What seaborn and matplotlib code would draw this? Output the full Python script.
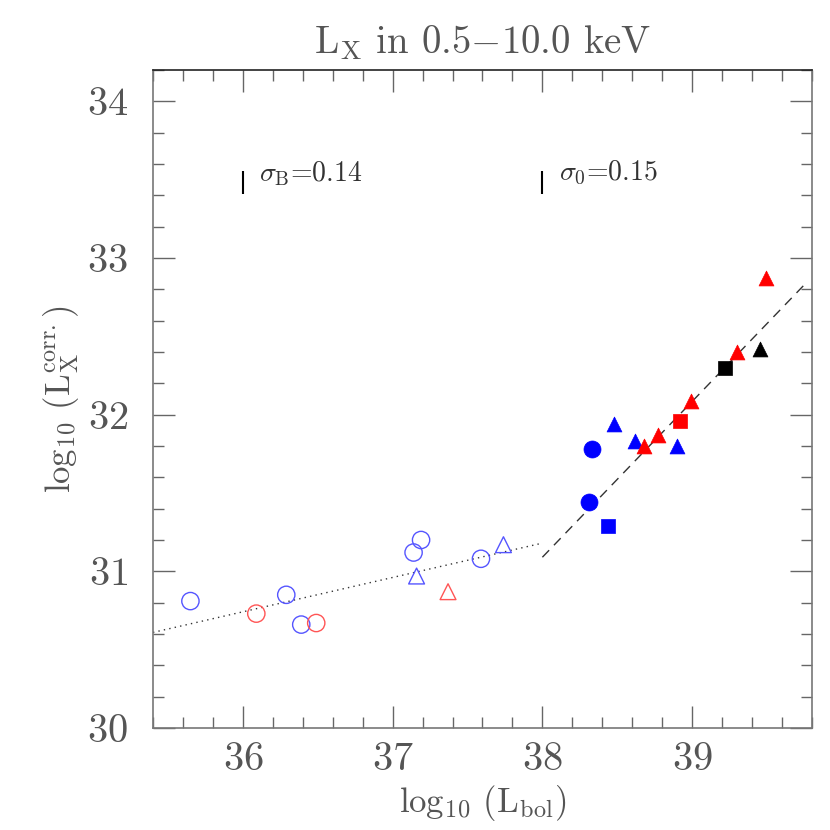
import numpy as np
import pandas as pd
import seaborn as sns
import matplotlib.pyplot as plt
from matplotlib.ticker import MultipleLocator

sns.set_theme(style="white")
plt.rcParams['font.family'] = ['serif']
plt.rcParams['font.serif'] = ['cmr10', 'DejaVu Serif']
plt.rcParams['mathtext.fontset'] = 'cm'
plt.rcParams['axes.formatter.use_mathtext'] = True
plt.rcParams['axes.unicode_minus'] = False

grey = '#555555'

# open circles (blue / red)
oc_blue_x = [35.65, 36.29, 36.39, 37.14, 37.19, 37.59]
oc_blue_y = [30.81, 30.85, 30.66, 31.12, 31.20, 31.08]
oc_red_x = [36.09, 36.49]
oc_red_y = [30.73, 30.67]
# open triangles
ot_blue_x = [37.16, 37.74]
ot_blue_y = [30.97, 31.17]
ot_red_x = [37.37]
ot_red_y = [30.87]
# filled circles
fc_blue_x = [38.33, 38.31]
fc_blue_y = [31.78, 31.44]
# filled squares
fs_blue_x = [38.44]
fs_blue_y = [31.29]
fs_red_x = [38.92]
fs_red_y = [31.96]
fs_black_x = [39.22]
fs_black_y = [32.30]
# filled triangles
ft_blue_x = [38.48, 38.62, 38.90]
ft_blue_y = [31.94, 31.83, 31.80]
ft_red_x = [38.68, 38.77, 38.99, 39.30, 39.49]
ft_red_y = [31.80, 31.87, 32.09, 32.40, 32.87]
ft_black_x = [39.45]
ft_black_y = [32.42]

# fits
dot_x = [35.4, 38.0]
dot_y = [30.61, 31.18]
dash_x = [38.0, 39.77]
dash_y = [31.09, 32.85]

# scatter labels
sig_x = [36.0, 38.0]
sig_y = [33.48, 33.48]
sig_err = [0.072, 0.072]
sig_text = [r'$\sigma_{\rm B}$=0.14', r'$\sigma_{\rm 0}$=0.15']

fig = plt.figure(figsize=(8.3, 8.3), dpi=100)
ax = fig.add_axes([0.1843, 0.1229, 0.794, 0.7928])

groups = [
    (oc_blue_x, oc_blue_y, 'o', '#5555ff', False, 155),
    (oc_red_x, oc_red_y, 'o', '#ff5555', False, 155),
    (ot_blue_x, ot_blue_y, '^', '#5555ff', False, 130),
    (ot_red_x, ot_red_y, '^', '#ff5555', False, 130),
    (fc_blue_x, fc_blue_y, 'o', '#0000ff', True, 150),
    (fs_blue_x, fs_blue_y, 's', '#0000ff', True, 95),
    (fs_red_x, fs_red_y, 's', '#ff0000', True, 95),
    (fs_black_x, fs_black_y, 's', '#000000', True, 95),
    (ft_blue_x, ft_blue_y, '^', '#0000ff', True, 115),
    (ft_red_x, ft_red_y, '^', '#ff0000', True, 115),
    (ft_black_x, ft_black_y, '^', '#000000', True, 115),
]
for gx, gy, m, c, filled, s in groups:
    df = pd.DataFrame({'x': gx, 'y': gy})
    if filled:
        sns.scatterplot(data=df, x='x', y='y', marker=m, s=s, color=c,
                        edgecolor=c, linewidth=0.5, ax=ax, zorder=3)
    else:
        sns.scatterplot(data=df, x='x', y='y', marker=m, s=s, facecolors='none',
                        edgecolor=c, linewidth=1.0, ax=ax, zorder=3)

sns.lineplot(x=dot_x, y=dot_y, ax=ax, color='#333333', linewidth=1.0,
             linestyle=(0, (1, 3)))
sns.lineplot(x=dash_x, y=dash_y, ax=ax, color='#333333', linewidth=1.0,
             linestyle=(0, (7, 5)))

ax.errorbar(sig_x, sig_y, yerr=sig_err, fmt='none', ecolor='black',
            elinewidth=1.5, capsize=0)
for sx, sy, t in zip(sig_x, sig_y, sig_text):
    ax.text(sx + 0.11, sy + 0.06, t, fontsize=20, color='#333333', va='center')

ax.set_xlim(35.4, 39.8)
ax.set_ylim(30, 34.2)
ax.xaxis.set_major_locator(MultipleLocator(1))
ax.xaxis.set_minor_locator(MultipleLocator(0.2))
ax.yaxis.set_major_locator(MultipleLocator(1))
ax.yaxis.set_minor_locator(MultipleLocator(0.2))
ax.tick_params(which='both', direction='in', top=True, right=True,
               bottom=True, left=True, color='#666666', labelcolor=grey,
               labelsize=29, width=1.0)
ax.tick_params(which='major', length=16)
ax.tick_params(which='minor', length=8)
ax.tick_params(axis='x', which='major', pad=10)
ax.tick_params(axis='y', which='major', pad=18)
for sp in ax.spines.values():
    sp.set_color('#777777')
    sp.set_linewidth(1.2)
ax.spines['top'].set_color('#222222')

ax.set_xlabel(r'log$_{10}$ (L$_{\rm bol}$)', fontsize=25, color=grey, labelpad=4)
ax.set_ylabel(r'log$_{10}$ (L$_{\rm X}^{\rm corr.}$)', fontsize=25, color=grey, labelpad=4)
ax.set_title(r'L$_{\rm X}$ in 0.5$-$10.0 keV', fontsize=28, color=grey, pad=12)

fig.savefig('out.png', dpi=100)
